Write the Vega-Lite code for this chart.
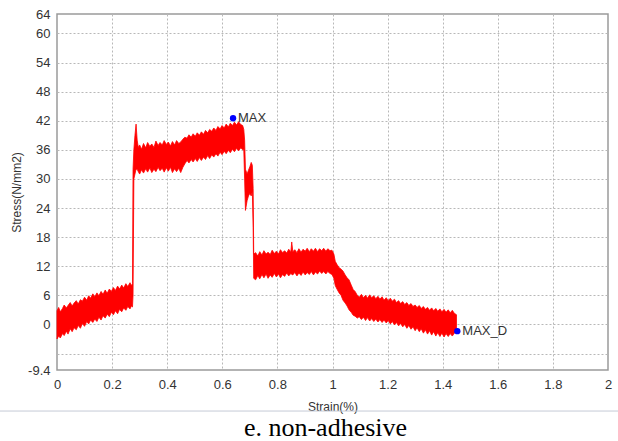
{
  "$schema": "https://vega.github.io/schema/vega-lite/v6.json",
  "width": 551,
  "height": 356,
  "autosize": {"type": "none"},
  "padding": {"left": 57, "top": 14, "right": 10, "bottom": 71},
  "background": "white",
  "config": {
    "view": {"stroke": "#9a9a9a", "strokeWidth": 1.5},
    "font": "Liberation Sans",
    "axis": {"labelOverlap": false, "labelBound": false, "labelFlush": false}
  },
  "title": {
    "text": "e. non-adhesive",
    "orient": "bottom",
    "anchor": "middle",
    "font": "Liberation Serif",
    "fontSize": 26,
    "fontWeight": "normal",
    "color": "#000000",
    "offset": 3,
    "dx": -7
  },
  "datasets": {
    "curve": [
      {"strain": 0.000, "lo": -3.0, "hi": 2.8},
      {"strain": 0.006, "lo": -2.4, "hi": 3.5},
      {"strain": 0.012, "lo": -2.8, "hi": 2.6},
      {"strain": 0.020, "lo": -1.9, "hi": 3.3},
      {"strain": 0.026, "lo": -2.3, "hi": 4.0},
      {"strain": 0.034, "lo": -1.4, "hi": 3.4},
      {"strain": 0.040, "lo": -2.0, "hi": 3.9},
      {"strain": 0.048, "lo": -0.9, "hi": 4.5},
      {"strain": 0.055, "lo": -1.5, "hi": 3.8},
      {"strain": 0.062, "lo": -0.7, "hi": 4.4},
      {"strain": 0.070, "lo": -1.1, "hi": 4.9},
      {"strain": 0.077, "lo": -0.2, "hi": 4.2},
      {"strain": 0.085, "lo": -0.8, "hi": 5.1},
      {"strain": 0.092, "lo": 0.2, "hi": 4.8},
      {"strain": 0.100, "lo": -0.4, "hi": 5.6},
      {"strain": 0.108, "lo": 0.6, "hi": 5.0},
      {"strain": 0.115, "lo": 0.1, "hi": 5.9},
      {"strain": 0.122, "lo": 0.9, "hi": 5.4},
      {"strain": 0.130, "lo": 0.4, "hi": 6.3},
      {"strain": 0.137, "lo": 1.1, "hi": 5.7},
      {"strain": 0.145, "lo": 0.6, "hi": 6.5},
      {"strain": 0.152, "lo": 1.5, "hi": 5.9},
      {"strain": 0.160, "lo": 0.9, "hi": 6.8},
      {"strain": 0.167, "lo": 1.8, "hi": 6.2},
      {"strain": 0.175, "lo": 1.3, "hi": 7.1},
      {"strain": 0.182, "lo": 2.1, "hi": 6.4},
      {"strain": 0.190, "lo": 1.6, "hi": 7.3},
      {"strain": 0.197, "lo": 2.5, "hi": 6.8},
      {"strain": 0.205, "lo": 2.0, "hi": 7.6},
      {"strain": 0.212, "lo": 2.8, "hi": 7.0},
      {"strain": 0.220, "lo": 2.2, "hi": 7.9},
      {"strain": 0.227, "lo": 3.1, "hi": 7.3},
      {"strain": 0.235, "lo": 2.6, "hi": 8.1},
      {"strain": 0.242, "lo": 3.4, "hi": 7.5},
      {"strain": 0.250, "lo": 2.9, "hi": 8.4},
      {"strain": 0.257, "lo": 3.7, "hi": 7.8},
      {"strain": 0.265, "lo": 3.2, "hi": 8.6},
      {"strain": 0.270, "lo": 3.8, "hi": 8.0},
      {"strain": 0.274, "lo": 3.6, "hi": 8.4},
      {"strain": 0.276, "lo": 6.0, "hi": 32.0},
      {"strain": 0.279, "lo": 30.0, "hi": 36.0},
      {"strain": 0.283, "lo": 31.0, "hi": 39.0},
      {"strain": 0.287, "lo": 32.0, "hi": 41.3},
      {"strain": 0.291, "lo": 32.0, "hi": 38.0},
      {"strain": 0.295, "lo": 31.5, "hi": 36.5},
      {"strain": 0.300, "lo": 31.0, "hi": 37.0},
      {"strain": 0.307, "lo": 31.9, "hi": 36.1},
      {"strain": 0.314, "lo": 31.2, "hi": 37.3},
      {"strain": 0.322, "lo": 32.1, "hi": 36.4},
      {"strain": 0.329, "lo": 31.4, "hi": 37.5},
      {"strain": 0.337, "lo": 32.3, "hi": 36.7},
      {"strain": 0.344, "lo": 31.3, "hi": 37.2},
      {"strain": 0.352, "lo": 32.0, "hi": 36.5},
      {"strain": 0.359, "lo": 31.5, "hi": 37.8},
      {"strain": 0.367, "lo": 32.4, "hi": 36.9},
      {"strain": 0.374, "lo": 31.7, "hi": 37.5},
      {"strain": 0.382, "lo": 32.2, "hi": 37.0},
      {"strain": 0.389, "lo": 31.4, "hi": 37.9},
      {"strain": 0.397, "lo": 32.3, "hi": 37.1},
      {"strain": 0.404, "lo": 31.6, "hi": 37.6},
      {"strain": 0.412, "lo": 32.4, "hi": 36.8},
      {"strain": 0.419, "lo": 31.3, "hi": 37.7},
      {"strain": 0.427, "lo": 32.1, "hi": 37.0},
      {"strain": 0.434, "lo": 31.5, "hi": 37.9},
      {"strain": 0.442, "lo": 32.2, "hi": 37.3},
      {"strain": 0.449, "lo": 31.3, "hi": 37.6},
      {"strain": 0.457, "lo": 32.4, "hi": 38.2},
      {"strain": 0.464, "lo": 33.1, "hi": 38.6},
      {"strain": 0.472, "lo": 33.8, "hi": 38.4},
      {"strain": 0.479, "lo": 33.3, "hi": 39.1},
      {"strain": 0.487, "lo": 34.0, "hi": 38.6},
      {"strain": 0.494, "lo": 33.5, "hi": 39.3},
      {"strain": 0.502, "lo": 34.2, "hi": 38.8},
      {"strain": 0.509, "lo": 33.6, "hi": 39.5},
      {"strain": 0.517, "lo": 34.4, "hi": 39.0},
      {"strain": 0.524, "lo": 33.8, "hi": 39.7},
      {"strain": 0.532, "lo": 34.5, "hi": 39.2},
      {"strain": 0.539, "lo": 34.0, "hi": 40.0},
      {"strain": 0.547, "lo": 34.8, "hi": 39.5},
      {"strain": 0.554, "lo": 34.2, "hi": 40.2},
      {"strain": 0.562, "lo": 35.0, "hi": 39.8},
      {"strain": 0.569, "lo": 34.5, "hi": 40.5},
      {"strain": 0.577, "lo": 35.2, "hi": 40.0},
      {"strain": 0.584, "lo": 34.7, "hi": 40.8},
      {"strain": 0.592, "lo": 35.5, "hi": 40.3},
      {"strain": 0.599, "lo": 35.0, "hi": 41.0},
      {"strain": 0.607, "lo": 35.7, "hi": 40.5},
      {"strain": 0.614, "lo": 35.2, "hi": 41.3},
      {"strain": 0.622, "lo": 35.9, "hi": 40.7},
      {"strain": 0.629, "lo": 35.4, "hi": 41.5},
      {"strain": 0.637, "lo": 36.1, "hi": 41.0},
      {"strain": 0.644, "lo": 35.6, "hi": 41.7},
      {"strain": 0.652, "lo": 36.3, "hi": 41.1},
      {"strain": 0.659, "lo": 35.8, "hi": 41.8},
      {"strain": 0.667, "lo": 36.4, "hi": 41.2},
      {"strain": 0.674, "lo": 36.0, "hi": 41.0},
      {"strain": 0.678, "lo": 36.0, "hi": 40.2},
      {"strain": 0.681, "lo": 30.0, "hi": 38.0},
      {"strain": 0.684, "lo": 23.5, "hi": 32.0},
      {"strain": 0.690, "lo": 25.5, "hi": 31.0},
      {"strain": 0.695, "lo": 26.5, "hi": 31.8},
      {"strain": 0.700, "lo": 27.0, "hi": 32.5},
      {"strain": 0.705, "lo": 26.5, "hi": 33.4},
      {"strain": 0.709, "lo": 27.5, "hi": 32.8},
      {"strain": 0.712, "lo": 20.0, "hi": 28.0},
      {"strain": 0.714, "lo": 9.5, "hi": 14.5},
      {"strain": 0.721, "lo": 9.2, "hi": 14.8},
      {"strain": 0.729, "lo": 10.1, "hi": 14.1},
      {"strain": 0.736, "lo": 9.4, "hi": 15.0},
      {"strain": 0.744, "lo": 10.3, "hi": 14.3},
      {"strain": 0.751, "lo": 9.6, "hi": 15.2},
      {"strain": 0.759, "lo": 10.4, "hi": 14.5},
      {"strain": 0.766, "lo": 9.5, "hi": 14.9},
      {"strain": 0.774, "lo": 10.2, "hi": 14.4},
      {"strain": 0.781, "lo": 9.7, "hi": 15.3},
      {"strain": 0.789, "lo": 10.5, "hi": 14.6},
      {"strain": 0.796, "lo": 9.8, "hi": 15.1},
      {"strain": 0.804, "lo": 10.4, "hi": 14.5},
      {"strain": 0.811, "lo": 9.6, "hi": 15.4},
      {"strain": 0.819, "lo": 10.3, "hi": 14.8},
      {"strain": 0.826, "lo": 9.9, "hi": 15.2},
      {"strain": 0.834, "lo": 10.6, "hi": 14.7},
      {"strain": 0.841, "lo": 10.0, "hi": 15.5},
      {"strain": 0.849, "lo": 10.5, "hi": 15.0},
      {"strain": 0.852, "lo": 10.3, "hi": 17.0},
      {"strain": 0.856, "lo": 10.2, "hi": 15.0},
      {"strain": 0.863, "lo": 10.7, "hi": 15.4},
      {"strain": 0.871, "lo": 10.0, "hi": 14.8},
      {"strain": 0.878, "lo": 10.6, "hi": 15.6},
      {"strain": 0.886, "lo": 10.1, "hi": 14.9},
      {"strain": 0.893, "lo": 10.8, "hi": 15.5},
      {"strain": 0.901, "lo": 10.2, "hi": 15.1},
      {"strain": 0.908, "lo": 10.7, "hi": 15.7},
      {"strain": 0.916, "lo": 10.3, "hi": 15.0},
      {"strain": 0.923, "lo": 10.9, "hi": 15.6},
      {"strain": 0.931, "lo": 10.2, "hi": 15.1},
      {"strain": 0.938, "lo": 10.8, "hi": 15.7},
      {"strain": 0.946, "lo": 10.4, "hi": 15.0},
      {"strain": 0.953, "lo": 11.0, "hi": 15.6},
      {"strain": 0.961, "lo": 10.5, "hi": 15.2},
      {"strain": 0.968, "lo": 10.9, "hi": 15.7},
      {"strain": 0.976, "lo": 10.4, "hi": 15.1},
      {"strain": 0.983, "lo": 10.9, "hi": 15.6},
      {"strain": 0.991, "lo": 10.5, "hi": 15.2},
      {"strain": 0.998, "lo": 10.3, "hi": 15.3},
      {"strain": 1.005, "lo": 9.5, "hi": 14.5},
      {"strain": 1.010, "lo": 8.0, "hi": 13.0},
      {"strain": 1.017, "lo": 7.2, "hi": 12.3},
      {"strain": 1.024, "lo": 6.5, "hi": 11.7},
      {"strain": 1.031, "lo": 6.0, "hi": 11.4},
      {"strain": 1.038, "lo": 5.0, "hi": 11.0},
      {"strain": 1.046, "lo": 4.4, "hi": 10.2},
      {"strain": 1.053, "lo": 3.8, "hi": 9.6},
      {"strain": 1.060, "lo": 3.0, "hi": 9.2},
      {"strain": 1.068, "lo": 2.5, "hi": 8.1},
      {"strain": 1.075, "lo": 1.9, "hi": 7.2},
      {"strain": 1.082, "lo": 1.7, "hi": 6.8},
      {"strain": 1.090, "lo": 1.3, "hi": 6.0},
      {"strain": 1.097, "lo": 1.6, "hi": 5.6},
      {"strain": 1.105, "lo": 1.0, "hi": 6.2},
      {"strain": 1.112, "lo": 1.5, "hi": 5.5},
      {"strain": 1.120, "lo": 0.8, "hi": 6.0},
      {"strain": 1.127, "lo": 1.4, "hi": 5.4},
      {"strain": 1.135, "lo": 0.7, "hi": 6.1},
      {"strain": 1.142, "lo": 1.2, "hi": 5.5},
      {"strain": 1.150, "lo": 0.6, "hi": 5.9},
      {"strain": 1.157, "lo": 1.1, "hi": 5.3},
      {"strain": 1.165, "lo": 0.5, "hi": 5.8},
      {"strain": 1.172, "lo": 1.0, "hi": 5.2},
      {"strain": 1.180, "lo": 0.4, "hi": 5.7},
      {"strain": 1.187, "lo": 0.9, "hi": 5.0},
      {"strain": 1.195, "lo": 0.3, "hi": 5.5},
      {"strain": 1.202, "lo": 0.8, "hi": 4.9},
      {"strain": 1.210, "lo": 0.1, "hi": 5.4},
      {"strain": 1.217, "lo": 0.6, "hi": 4.8},
      {"strain": 1.225, "lo": -0.1, "hi": 5.2},
      {"strain": 1.232, "lo": 0.4, "hi": 4.5},
      {"strain": 1.240, "lo": -0.3, "hi": 4.9},
      {"strain": 1.247, "lo": 0.2, "hi": 4.3},
      {"strain": 1.255, "lo": -0.5, "hi": 4.7},
      {"strain": 1.262, "lo": 0.0, "hi": 4.1},
      {"strain": 1.270, "lo": -0.8, "hi": 4.5},
      {"strain": 1.277, "lo": -0.2, "hi": 3.9},
      {"strain": 1.285, "lo": -1.0, "hi": 4.3},
      {"strain": 1.292, "lo": -0.5, "hi": 3.7},
      {"strain": 1.300, "lo": -1.3, "hi": 4.0},
      {"strain": 1.307, "lo": -0.7, "hi": 3.5},
      {"strain": 1.315, "lo": -1.5, "hi": 3.9},
      {"strain": 1.322, "lo": -0.9, "hi": 3.3},
      {"strain": 1.330, "lo": -1.8, "hi": 3.7},
      {"strain": 1.337, "lo": -1.1, "hi": 3.1},
      {"strain": 1.345, "lo": -2.0, "hi": 3.5},
      {"strain": 1.352, "lo": -1.3, "hi": 2.9},
      {"strain": 1.360, "lo": -2.2, "hi": 3.4},
      {"strain": 1.367, "lo": -1.5, "hi": 2.8},
      {"strain": 1.375, "lo": -2.4, "hi": 3.3},
      {"strain": 1.382, "lo": -1.7, "hi": 2.7},
      {"strain": 1.390, "lo": -2.5, "hi": 3.2},
      {"strain": 1.397, "lo": -1.8, "hi": 2.6},
      {"strain": 1.405, "lo": -2.6, "hi": 3.1},
      {"strain": 1.412, "lo": -1.9, "hi": 2.5},
      {"strain": 1.420, "lo": -2.5, "hi": 3.0},
      {"strain": 1.427, "lo": -1.9, "hi": 2.4},
      {"strain": 1.435, "lo": -2.4, "hi": 2.9},
      {"strain": 1.442, "lo": -1.8, "hi": 2.3},
      {"strain": 1.450, "lo": -1.6, "hi": 2.0}
    ],
    "points": [
      {"strain": 0.639, "stress": 42.5, "label": "MAX"},
      {"strain": 1.453, "stress": -1.4, "label": "MAX_D"}
    ]
  },
  "layer": [
    {
      "data": {"name": "curve"},
      "mark": {"type": "area", "color": "#ff0000", "stroke": "#ff0000", "strokeWidth": 0.8, "interpolate": "linear"},
      "encoding": {
        "x": {
          "field": "strain", "type": "quantitative",
          "scale": {"domain": [0, 2], "nice": false, "zero": false},
          "axis": {
            "title": "Strain(%)",
            "titleFont": "Liberation Sans", "titleFontSize": 12, "titleFontWeight": "normal", "titleColor": "#333333",
            "titlePadding": 10,
            "values": [0, 0.2, 0.4, 0.6, 0.8, 1, 1.2, 1.4, 1.6, 1.8, 2],
            "tickCount": 30,
            "format": ".1~f",
            "labelFontSize": 13, "labelColor": "#333333", "labelPadding": 8,
            "labelFlush": false, "labelOverlap": false,
            "ticks": false, "domain": false,
            "grid": true, "gridColor": "#b8b8b8", "gridDash": [2, 2], "gridWidth": 1,
            "gridOpacity": {"condition": {"test": "datum.value == 0 || datum.value == 2", "value": 0}, "value": 1}
          }
        },
        "y": {
          "field": "lo", "type": "quantitative",
          "scale": {"domain": [-9.4, 64], "nice": false, "zero": false},
          "axis": {
            "title": "Stress(N/mm2)",
            "titleFont": "Liberation Sans", "titleFontSize": 12, "titleFontWeight": "normal", "titleColor": "#333333",
            "titlePadding": 4,
            "values": [-9.4, -6, 0, 6, 12, 18, 24, 30, 36, 42, 48, 54, 60, 64],
            "tickCount": 30,
            "labelExpr": "datum.value == -6 ? '' : (datum.value == -9.4 ? '-9.4' : format(datum.value, 'd'))",
            "labelFontSize": 13, "labelColor": "#333333", "labelPadding": 7,
            "labelFlush": false, "labelOverlap": false,
            "ticks": false, "domain": false,
            "grid": true, "gridColor": "#b8b8b8", "gridDash": [2, 2], "gridWidth": 1,
            "gridOpacity": {"condition": {"test": "datum.value == -9.4 || datum.value == 64", "value": 0}, "value": 1}
          }
        },
        "y2": {"field": "hi"}
      }
    },
    {
      "data": {"values": [{}]},
      "mark": {"type": "rule", "color": "#c5cad6", "strokeWidth": 1, "clip": false},
      "encoding": {
        "x": {"datum": -0.21, "type": "quantitative"},
        "x2": {"datum": 2.04},
        "y": {"datum": -17.86, "type": "quantitative"}
      }
    },
    {
      "data": {"name": "points"},
      "mark": {"type": "circle", "color": "#0000ff", "opacity": 1, "size": 40},
      "encoding": {
        "x": {"field": "strain", "type": "quantitative"},
        "y": {"field": "stress", "type": "quantitative"}
      }
    },
    {
      "data": {"name": "points"},
      "mark": {"type": "text", "align": "left", "baseline": "middle", "dx": 5, "dy": 0, "fontSize": 13, "color": "#333333", "font": "Liberation Sans"},
      "encoding": {
        "x": {"field": "strain", "type": "quantitative"},
        "y": {"field": "stress", "type": "quantitative"},
        "text": {"field": "label"}
      }
    }
  ]
}
